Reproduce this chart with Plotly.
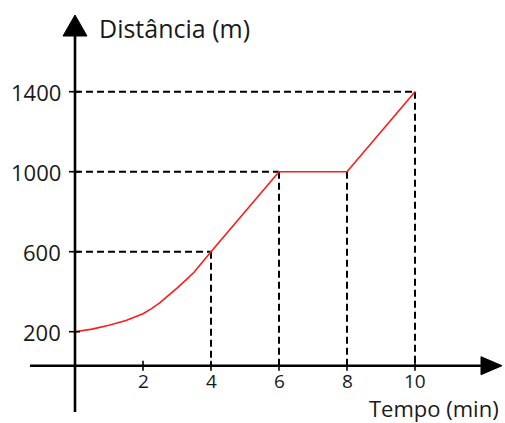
import plotly.graph_objects as go

# ---- data ----
tempo = [0, 0.5, 1, 1.5, 2, 2.25, 2.5, 2.75, 3, 3.25, 3.5, 3.75, 4, 6, 8, 10]
distancia = [200, 213, 232, 256, 290, 315, 345, 380, 418, 457, 497, 548, 600, 1000, 1000, 1400]
x_ticks = [2, 4, 6, 8, 10]
x_tick_labels = ["2", "4", "6", "8", "10"]
y_ticks = [200, 600, 1000, 1400]
y_tick_labels = ["200", "600", "1000", "1400"]
guia_t = [4, 6, 8, 10]
guia_d = [600, 1000, 1000, 1400]
titulo_y = "Distância (m)"
titulo_x = "Tempo (min)"

# ---- layout constants (positions in axis units) ----
eixo_x_em_d = 30          # height where the time axis crosses the distance axis
x_range = [-75 / 34, 430 / 34]
y_range = [-256.5, 1858.5]

fig = go.Figure()

shapes = []
# dashed guide lines
drawn_h = set()
for t, d in zip(guia_t, guia_d):
    if d not in drawn_h:
        drawn_h.add(d)
        fig.add_trace(go.Scatter(x=[0, t], y=[d, d], mode="lines",
                                 line=dict(color="black", width=2, dash="7px,4px"),
                                 hoverinfo="skip"))
    fig.add_trace(go.Scatter(x=[t, t], y=[d, eixo_x_em_d], mode="lines",
                             line=dict(color="black", width=2, dash="7px,4px"),
                             hoverinfo="skip"))

# the curve
fig.add_trace(go.Scatter(x=tempo, y=distancia, mode="lines",
                         line=dict(color="#ff1a1a", width=1.6),
                         hoverinfo="skip"))

# axes lines
shapes.append(dict(type="line", xref="x", yref="y", x0=-1.324, x1=12.1,
                   y0=eixo_x_em_d, y1=eixo_x_em_d, line=dict(color="black", width=2.6)))
shapes.append(dict(type="line", xref="x", yref="y", x0=0, x1=0,
                   y0=-201.5, y1=1700, line=dict(color="black", width=2.6)))
# arrow heads
shapes.append(dict(type="path", xref="x", yref="y", xsizemode="pixel", ysizemode="pixel",
                   xanchor=0, yanchor=1783.5, path="M 0 0 L -12 -21 L 12 -21 Z",
                   fillcolor="black", line=dict(color="black", width=1)))
shapes.append(dict(type="path", xref="x", yref="y", xsizemode="pixel", ysizemode="pixel",
                   xanchor=(502 - 75) / 34, yanchor=eixo_x_em_d,
                   path="M 0 0 L -21 9 L -21 -9 Z",
                   fillcolor="black", line=dict(color="black", width=1)))
# tick marks
for t in x_ticks:
    shapes.append(dict(type="line", xref="x", yref="y", ysizemode="pixel",
                       yanchor=eixo_x_em_d, x0=t, x1=t, y0=-5, y1=5,
                       line=dict(color="black", width=1.6)))
for d in y_ticks:
    shapes.append(dict(type="line", xref="x", yref="y", xsizemode="pixel",
                       xanchor=0, x0=-6, x1=5, y0=d, y1=d,
                       line=dict(color="black", width=1.6)))

annotations = []
font_ticks = dict(family="Open Sans", size=22, color="#1a1a1a")
font_ticks_x = dict(family="Open Sans", size=19, color="#1a1a1a")
font_title_y = dict(family="Open Sans", size=25, color="#1a1a1a")
font_title_x = dict(family="Open Sans", size=22, color="#1a1a1a")
for d, lab in zip(y_ticks, y_tick_labels):
    annotations.append(dict(x=-0.35, y=d, xref="x", yref="y", text=lab, showarrow=False,
                            xanchor="right", yanchor="middle", font=font_ticks))
for t, lab in zip(x_ticks, x_tick_labels):
    annotations.append(dict(x=t, y=-44, xref="x", yref="y", text=lab, showarrow=False,
                            xanchor="center", yanchor="middle", font=font_ticks_x,
                            borderpad=0))
annotations.append(dict(x=12.5, y=-183, xref="x", yref="y", text=titulo_x, showarrow=False,
                        xanchor="right", yanchor="middle", font=font_title_x, borderpad=0))
annotations.append(dict(x=0.66, y=1718.5, xref="x", yref="y", text=titulo_y, showarrow=False,
                        xanchor="left", yanchor="middle", font=font_title_y))

fig.update_layout(
    width=505, height=423,
    margin=dict(l=0, r=0, t=0, b=0),
    paper_bgcolor="white", plot_bgcolor="white",
    showlegend=False,
    xaxis=dict(range=x_range, visible=False, fixedrange=True),
    yaxis=dict(range=y_range, visible=False, fixedrange=True),
    shapes=shapes, annotations=annotations,
)

fig.write_html("out.html", config={"displayModeBar": False},
               post_script="document.body.style.margin='0px';document.body.style.overflow='hidden';")
